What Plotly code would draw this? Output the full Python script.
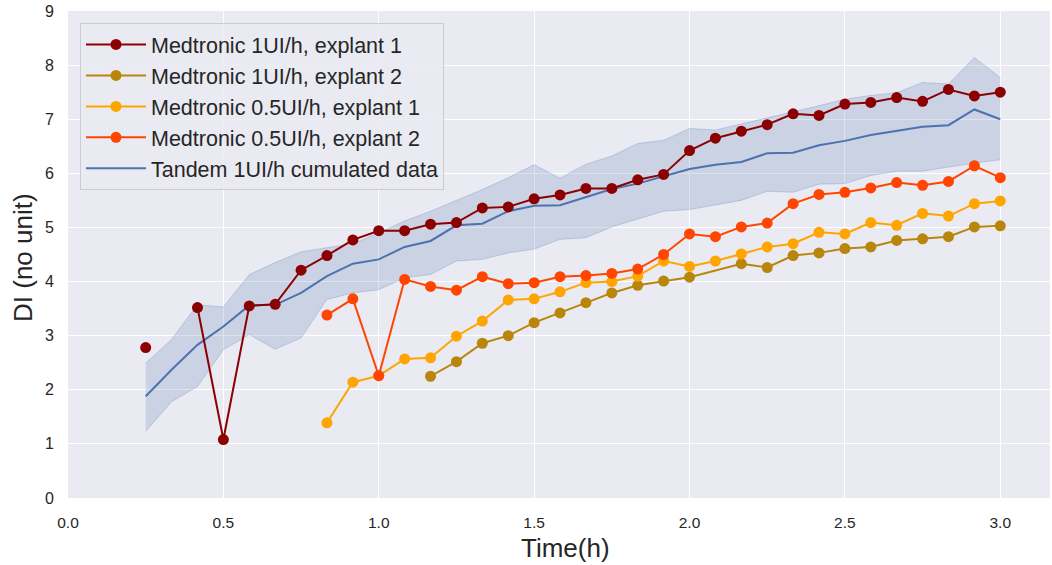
import plotly.graph_objects as go

# Time axis (h), 5-minute steps
t_all = [0.25, 0.3333, 0.4167, 0.5, 0.5833, 0.6667, 0.75, 0.8333, 0.9167, 1.0,
         1.0833, 1.1667, 1.25, 1.3333, 1.4167, 1.5, 1.5833, 1.6667, 1.75, 1.8333,
         1.9167, 2.0, 2.0833, 2.1667, 2.25, 2.3333, 2.4167, 2.5, 2.5833, 2.6667,
         2.75, 2.8333, 2.9167, 3.0]

med1_e1 = [2.78, None, 3.52, 1.08, 3.55, 3.58, 4.21, 4.48, 4.77, 4.94,
           4.94, 5.06, 5.09, 5.36, 5.38, 5.53, 5.60, 5.72, 5.72, 5.88,
           5.98, 6.42, 6.65, 6.78, 6.90, 7.10, 7.07, 7.28, 7.31, 7.40,
           7.33, 7.55, 7.43, 7.50]

t_med1_e2 = [1.1667, 1.25, 1.3333, 1.4167, 1.5, 1.5833, 1.6667, 1.75, 1.8333,
             1.9167, 2.0, 2.1667, 2.25, 2.3333, 2.4167, 2.5, 2.5833, 2.6667,
             2.75, 2.8333, 2.9167, 3.0]
med1_e2 = [2.25, 2.52, 2.86, 3.00, 3.24, 3.42, 3.61, 3.79, 3.93,
           4.01, 4.08, 4.33, 4.26, 4.48, 4.53, 4.61, 4.64, 4.76,
           4.79, 4.83, 5.01, 5.03]

t_med05 = [0.8333, 0.9167, 1.0, 1.0833, 1.1667, 1.25, 1.3333, 1.4167, 1.5,
           1.5833, 1.6667, 1.75, 1.8333, 1.9167, 2.0, 2.0833, 2.1667, 2.25,
           2.3333, 2.4167, 2.5, 2.5833, 2.6667, 2.75, 2.8333, 2.9167, 3.0]
med05_e1 = [1.39, 2.14, 2.26, 2.57, 2.59, 2.99, 3.27, 3.66, 3.68,
            3.81, 3.98, 4.00, 4.10, 4.38, 4.28, 4.38, 4.51, 4.64,
            4.70, 4.91, 4.88, 5.09, 5.04, 5.26, 5.21, 5.44, 5.49]
med05_e2 = [3.38, 3.68, 2.26, 4.04, 3.91, 3.84, 4.09, 3.96, 3.98,
            4.09, 4.11, 4.15, 4.23, 4.50, 4.88, 4.83, 5.01, 5.08,
            5.44, 5.61, 5.65, 5.73, 5.83, 5.78, 5.85, 6.14, 5.92]

tandem_mean = [1.88, 2.37, 2.83, 3.17, 3.56, 3.57, 3.79, 4.10, 4.33, 4.41,
               4.64, 4.75, 5.04, 5.07, 5.30, 5.40, 5.41, 5.56, 5.71, 5.81,
               5.95, 6.08, 6.16, 6.21, 6.37, 6.38, 6.52, 6.60, 6.71, 6.78,
               6.86, 6.89, 7.18, 7.00]
tandem_upper = [2.49, 2.93, 3.57, 3.53, 4.13, 4.35, 4.55, 4.62, 4.70, 4.90,
                5.12, 5.30, 5.50, 5.70, 5.92, 6.16, 5.91, 6.17, 6.32, 6.55,
                6.61, 6.83, 6.80, 6.91, 7.03, 7.14, 7.25, 7.37, 7.44, 7.49,
                7.68, 7.65, 8.14, 7.77]
tandem_lower = [1.23, 1.78, 2.06, 2.74, 3.02, 2.75, 2.96, 3.67, 3.79, 3.85,
                4.07, 4.13, 4.38, 4.41, 4.53, 4.60, 4.78, 4.81, 5.01, 5.15,
                5.30, 5.33, 5.41, 5.50, 5.67, 5.65, 5.80, 5.81, 5.96, 6.04,
                6.04, 6.12, 6.19, 6.25]

x_ticks = [0.0, 0.5, 1.0, 1.5, 2.0, 2.5, 3.0]
x_ticklabels = ["0.0", "0.5", "1.0", "1.5", "2.0", "2.5", "3.0"]
y_ticks = [0, 1, 2, 3, 4, 5, 6, 7, 8, 9]

BLUE = "#4C72B0"
FONT = "Liberation Sans, Arial, sans-serif"
TXT = "#262626"

fig = go.Figure()

# Confidence band
fig.add_trace(go.Scatter(x=t_all, y=tandem_lower, mode="lines",
                         line=dict(color="rgba(76,114,176,0.25)", width=1),
                         showlegend=False, hoverinfo="skip"))
fig.add_trace(go.Scatter(x=t_all, y=tandem_upper, mode="lines", fill="tonexty",
                         fillcolor="rgba(76,114,176,0.2)",
                         line=dict(color="rgba(76,114,176,0.25)", width=1),
                         showlegend=False, hoverinfo="skip"))

series = [
    ("Medtronic 1UI/h, explant 1", t_all, med1_e1, "#8B0000"),
    ("Medtronic 1UI/h, explant 2", t_med1_e2, med1_e2, "#B8860B"),
    ("Medtronic 0.5UI/h, explant 1", t_med05, med05_e1, "#FFA500"),
    ("Medtronic 0.5UI/h, explant 2", t_med05, med05_e2, "#FF4500"),
]

fig.add_trace(go.Scatter(x=t_all, y=tandem_mean, mode="lines",
                         name="Tandem 1UI/h cumulated data",
                         line=dict(color=BLUE, width=2), legendrank=1005))

for i, (name, xs, ys, col) in enumerate(series):
    fig.add_trace(go.Scatter(x=xs, y=ys, mode="lines+markers", name=name,
                             connectgaps=False,
                             line=dict(color=col, width=2),
                             marker=dict(color=col, size=11),
                             legendrank=1000 + i))

W, H = 1052, 565
L, R, T, B = 68, 2, 11, 67
pw, ph = W - L - R, H - T - B

fig.update_layout(
    width=W, height=H,
    paper_bgcolor="white", plot_bgcolor="#EAEAF2",
    margin=dict(l=L, r=R, t=T, b=B),
    font=dict(family=FONT, color=TXT, size=16),
    legend=dict(x=12 / pw, y=1 - 12 / ph, xanchor="left", yanchor="top",
                bgcolor="rgba(234,234,242,0.85)", bordercolor="#CCCCCC",
                borderwidth=1, font=dict(size=21.5, color=TXT), itemwidth=60,
                traceorder="normal"),
    xaxis=dict(range=[0, 3.16], tickvals=x_ticks, ticktext=x_ticklabels,
               showgrid=True, gridcolor="white", gridwidth=1.3, zeroline=False,
               showline=False, ticks="", tickfont=dict(size=15.5),
               ticklabelstandoff=13, automargin=False),
    yaxis=dict(range=[0, 9], tickvals=y_ticks, showgrid=True, gridcolor="white",
               gridwidth=1.3, zeroline=False, showline=False, ticks="",
               tickfont=dict(size=16), ticklabelstandoff=13, automargin=False),
    annotations=[
        dict(text="Time(h)", xref="paper", yref="paper",
             x=(565 - L) / pw, y=-(548 - (H - B)) / ph,
             xanchor="center", yanchor="middle", showarrow=False,
             font=dict(size=26, color=TXT)),
        dict(text="DI (no unit)", xref="paper", yref="paper",
             x=-(L - 23) / pw, y=((H - B) - 258) / ph,
             xanchor="center", yanchor="middle", showarrow=False,
             textangle=-90, font=dict(size=26, color=TXT)),
    ],
)

fig.write_html("out.html", config={"displayModeBar": False},
               post_script="document.body.style.margin='0px';document.body.style.padding='0px';")
